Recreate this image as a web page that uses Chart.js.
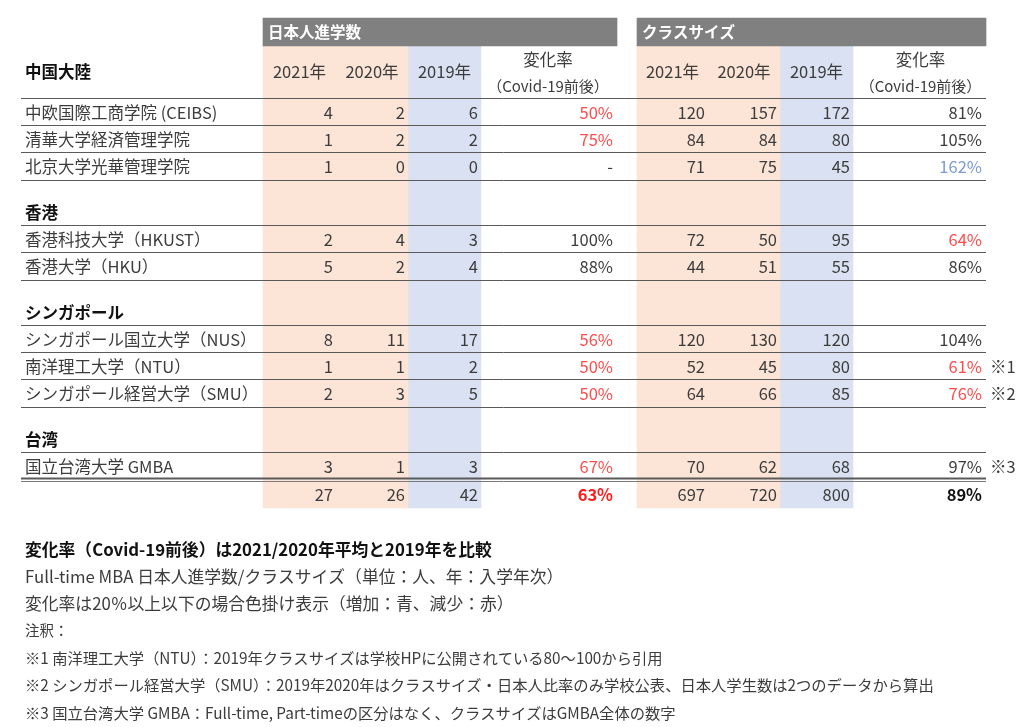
<!DOCTYPE html>
<html><head><meta charset="utf-8">
<script src="https://cdn.jsdelivr.net/npm/chart.js@4"></script>
<style>html,body{margin:0;padding:0;background:#fff}canvas{display:block}</style>
</head><body>
<canvas id="c" width="1024" height="727"></canvas>
<script>
// ---------- data ----------
const regions = ['中国大陸', '香港', 'シンガポール', '台湾'];
const regionOf = [0, 0, 0, 1, 1, 2, 2, 2, 3];
const schools = [
  '中欧国際工商学院 (CEIBS)',
  '清華大学経済管理学院',
  '北京大学光華管理学院',
  '香港科技大学（HKUST）',
  '香港大学（HKU）',
  'シンガポール国立大学（NUS）',
  '南洋理工大学（NTU）',
  'シンガポール経営大学（SMU）',
  '国立台湾大学 GMBA'
];
const jp2021 = [4, 1, 1, 2, 5, 8, 1, 2, 3];
const jp2020 = [2, 2, 0, 4, 2, 11, 1, 3, 1];
const jp2019 = [6, 2, 0, 3, 4, 17, 2, 5, 3];
const jpRate = [0.50, 0.75, null, 1.00, 0.88, 0.56, 0.50, 0.50, 0.67];
const cs2021 = [120, 84, 71, 72, 44, 120, 52, 64, 70];
const cs2020 = [157, 84, 75, 50, 51, 130, 45, 66, 62];
const cs2019 = [172, 80, 45, 95, 55, 120, 80, 85, 68];
const csRate = [0.81, 1.05, 1.62, 0.64, 0.86, 1.04, 0.61, 0.76, 0.97];
const notes = ['', '', '', '', '', '', '※1', '※2', '※3'];
const totalJp = [27, 26, 42];
const totalJpRate = 0.63;
const totalCs = [697, 720, 800];
const totalCsRate = 0.89;
const groupTitles = ['日本人進学数', 'クラスサイズ'];
const yearLabels = ['2021年', '2020年', '2019年'];
const rateLabels = ['変化率', '（Covid-19前後）'];
const footTitle = '変化率（Covid-19前後）は2021/2020年平均と2019年を比較';
const footLines = [
  'Full-time MBA 日本人進学数/クラスサイズ（単位：人、年：入学年次）',
  '変化率は20％以上以下の場合色掛け表示（増加：青、減少：赤）'
];
const noteHead = '注釈：';
const noteLines = [
  '※1 南洋理工大学（NTU）：2019年クラスサイズは学校HPに公開されている80～100から引用',
  '※2 シンガポール経営大学（SMU）：2019年2020年はクラスサイズ・日本人比率のみ学校公表、日本人学生数は2つのデータから算出',
  '※3 国立台湾大学 GMBA：Full-time, Part-timeの区分はなく、クラスサイズはGMBA全体の数字'
];

// ---------- layout (scale units) ----------
const GRP = [[263, 336, 408, 481, 617], [637, 708, 780, 853, 986]];
const RATE_HEAD_SHIFT = [-1, 1];
const LINE_L = 21, LINE_R = 986, NAME_X = 25, NOTE_X = 990;
const HEAD_TOP = 18, HEAD_BOT = 46, BAND_BOT = 508;
const ROW_H = 27.2, SEC_H = 45.5, FIRST_LINE = 98;

const rowGeom = [];
const regionLabelY = [];
let y = FIRST_LINE;
let prevRegion = -1;
schools.forEach((s, i) => {
  if (regionOf[i] !== prevRegion) {
    if (prevRegion === -1) regionLabelY.push(72);
    else { regionLabelY.push(y + 33); y += SEC_H; }
    prevRegion = regionOf[i];
  }
  rowGeom.push({ idx: i, top: y, bot: y + ROW_H });
  y += ROW_H;
});
const totalTop = y, totalY = (y + BAND_BOT) / 2 + 1;

const C_TEXT = '#3c3c3c', C_RED = '#ff4b4b', C_BLUE = '#7b9ad6', C_LINE = '#5a5a5a';
const FONT = '"Noto Sans CJK JP", "Noto Sans", sans-serif';

function rateColor(r) { if (r === null) return C_TEXT; if (r < 0.8) return C_RED; if (r > 1.2) return C_BLUE; return C_TEXT; }
function fmtRate(r) { return r === null ? '-' : Math.round(r * 100) + '%'; }

function band(l, r, t, b, color) {
  return { type: 'bar', data: [{ x: (l + r) / 2, y: [t, b] }], backgroundColor: color,
    barThickness: r - l, grouped: false, borderWidth: 0 };
}
const datasets = [];
GRP.forEach(g => {
  datasets.push(band(g[0], g[4], HEAD_TOP, HEAD_BOT, '#808080'));
  datasets.push(band(g[0], g[2], HEAD_BOT, BAND_BOT, '#fce4d6'));
  datasets.push(band(g[2], g[3], HEAD_BOT, BAND_BOT, '#d9e1f2'));
});

const tablePlugin = {
  id: 'tableText',
  afterDatasetsDraw(chart) {
    const ctx = chart.ctx, X = v => chart.scales.x.getPixelForValue(v), Y = v => chart.scales.y.getPixelForValue(v);
    ctx.save();
    const txt = (s, x, yy, align, font, color) => {
      ctx.font = font; ctx.fillStyle = color; ctx.textAlign = align; ctx.textBaseline = 'middle';
      ctx.fillText(s, X(x), Y(yy));
    };
    const hline = (yy, w, color) => {
      ctx.beginPath(); ctx.strokeStyle = color; ctx.lineWidth = w;
      const py = Math.round(Y(yy)) + 0.5;
      ctx.moveTo(X(LINE_L), py); ctx.lineTo(X(LINE_R), py); ctx.stroke();
    };
    const N = '16.5px ' + FONT, B = 'bold 16.5px ' + FONT;
    GRP.forEach((g, gi) => {
      txt(groupTitles[gi], g[0] + 5, 32, 'left', 'bold 15.5px ' + FONT, '#ffffff');
      yearLabels.forEach((yl, k) => txt(yl, (g[k] + g[k + 1]) / 2, 72, 'center', N, C_TEXT));
      const rc = (g[3] + g[4]) / 2 + RATE_HEAD_SHIFT[gi];
      txt(rateLabels[0], rc, 60, 'center', N, C_TEXT);
      txt(rateLabels[1], rc, 86, 'center', '15px ' + FONT, C_TEXT);
    });
    regions.forEach((r, i) => txt(r, NAME_X, regionLabelY[i], 'left', B, '#111'));
    hline(FIRST_LINE, 1, C_LINE);
    rowGeom.forEach((rg, k) => {
      const next = rowGeom[k + 1];
      if (!next) return;
      hline(rg.bot, 1, C_LINE);
      if (next.top !== rg.bot) hline(next.top, 1, C_LINE);
    });
    hline(totalTop - 1, 2, C_LINE);
    hline(totalTop + 1.5, 1, '#7a7a7a');
    rowGeom.forEach(rg => {
      const i = rg.idx, cy = (rg.top + rg.bot) / 2 + 1;
      txt(schools[i], NAME_X, cy, 'left', N, C_TEXT);
      const jv = [jp2021[i], jp2020[i], jp2019[i]], cv = [cs2021[i], cs2020[i], cs2019[i]];
      [jv, cv].forEach((vals, gi) => {
        const g = GRP[gi];
        vals.forEach((v, k) => txt(String(v), g[k + 1] - 3, cy, 'right', N, C_TEXT));
      });
      txt(fmtRate(jpRate[i]), GRP[0][4] - 4, cy, 'right', N, rateColor(jpRate[i]));
      txt(fmtRate(csRate[i]), GRP[1][4] - 4, cy, 'right', N, rateColor(csRate[i]));
      if (notes[i]) txt(notes[i], NOTE_X, cy, 'left', N, C_TEXT);
    });
    [totalJp, totalCs].forEach((vals, gi) => {
      const g = GRP[gi];
      vals.forEach((v, k) => txt(String(v), g[k + 1] - 3, totalY, 'right', N, C_TEXT));
    });
    txt(fmtRate(totalJpRate), GRP[0][4] - 4, totalY, 'right', B, '#ff1a1a');
    txt(fmtRate(totalCsRate), GRP[1][4] - 4, totalY, 'right', B, '#111');
    txt(footTitle, NAME_X, 550, 'left', 'bold 16.8px ' + FONT, '#111');
    footLines.forEach((s, k) => txt(s, NAME_X, 577 + k * 26.5, 'left', '16.8px ' + FONT, C_TEXT));
    txt(noteHead, NAME_X, 630, 'left', '14.5px ' + FONT, C_TEXT);
    noteLines.forEach((s, k) => txt(s, NAME_X, 658 + k * 27.5, 'left', '15.3px ' + FONT, C_TEXT));
    ctx.restore();
  }
};

new Chart(document.getElementById('c'), {
  type: 'bar',
  data: { datasets },
  options: {
    responsive: false, animation: false, devicePixelRatio: 1,
    layout: { padding: 0 },
    plugins: { legend: { display: false }, tooltip: { enabled: false }, title: { display: false } },
    scales: {
      x: { type: 'linear', min: 0, max: 1024, offset: false, display: false, grid: { display: false } },
      y: { type: 'linear', min: 0, max: 727, reverse: true, display: false, grid: { display: false } }
    }
  },
  plugins: [tablePlugin]
});
</script>
</body></html>
